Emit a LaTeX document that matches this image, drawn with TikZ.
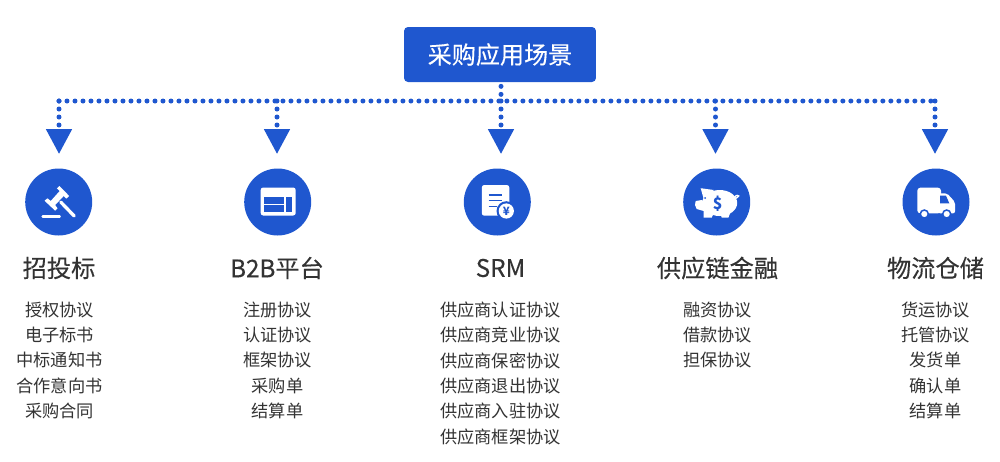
\documentclass[tikz,border=0pt]{standalone}
\usepackage{fontspec}
\setmainfont{Noto Sans CJK SC}
\newfontfamily\headfont[FakeBold=0.25]{Noto Sans CJK SC}
\usetikzlibrary{arrows.meta}
\definecolor{mainblue}{HTML}{1F57CF}
\definecolor{textgray}{HTML}{333333}

\begin{document}
\begin{tikzpicture}[
  x=0.02cm, y=-0.02cm,
  rootbox/.style={fill=mainblue, rounded corners=0.08cm, minimum width=3.84cm, minimum height=1.1cm, inner sep=0pt, text=white, font=\headfont\fontsize{13.7}{16}\selectfont},
  icon/.style={circle, fill=mainblue, minimum size=1.34cm, inner sep=0pt},
  head/.style={text=textgray, inner sep=0pt, font=\headfont\fontsize{13.8}{16}\selectfont},
  items/.style={anchor=north, align=center, text=textgray, inner sep=0pt, font=\fontsize{9.8}{14.45}\selectfont},
  bus/.style={mainblue, line width=0.1cm, line cap=round, dash pattern=on 0pt off 0.16cm},
  drop/.style={bus, shorten >=0.28cm, -{Triangle[length=0.5cm, width=0.5cm, line cap=butt]}},
  glyph/.style={fill=white, draw=none},
  cut/.style={fill=mainblue, draw=none}
]
\useasboundingbox (0,0) rectangle (1000,461);

\node[rootbox] (root) at (500,54.5) {采购应用场景};

% one column per scene
\node[icon] (gavel) at (58.7,202) {};
\node[icon] (window) at (277.7,202) {};
\node[icon] (paper) at (497.3,202) {};
\node[icon] (piggy) at (716.7,202) {};
\node[icon] (truck) at (936,202) {};

\node[head] (tender) at (59,268) {招投标};
\node[head] (btob) at (277,268) {B2B平台};
\node[head] (srm) at (500.5,268) {SRM};
\node[head] (finance) at (717.5,268) {供应链金融};
\node[head] (logistics) at (935.5,268) {物流仓储};

\node[items] (tenderlist) at (59.5,301.3) {授权协议\\电子标书\\中标通知书\\合作意向书\\采购合同};
\node[items] (btoblist) at (277.5,301.3) {注册协议\\认证协议\\框架协议\\采购单\\结算单};
\node[items] (srmlist) at (500.5,301.3) {供应商认证协议\\供应商竞业协议\\供应商保密协议\\供应商退出协议\\供应商入驻协议\\供应商框架协议};
\node[items] (financelist) at (717.5,301.3) {融资协议\\借款协议\\担保协议};
\node[items] (logisticslist) at (935.5,301.3) {货运协议\\托管协议\\发货单\\确认单\\结算单};

% dotted connectors
\coordinate (busleft) at (59,101);
\coordinate (busright) at (935,101);
\coordinate (busmid) at (501,101);
\draw[bus] (busleft) -- (busright);
\draw[bus] (root.south) ++(1,4) -- (busmid);
\foreach \t/\x in {gavel/59,window/277,paper/501,piggy/715.5,truck/935}
  \draw[drop] (\x,101) -- (\x,168);

% gavel
\begin{scope}[shift={(gavel.center)}]
  \fill[glyph] (-1.8,-13.7) -- (0.8,-16) -- (10.5,-6) -- (7.5,-3.3) -- (5,-6) -- (-3.5,3) -- (-1.2,6.3) -- (-3.5,8.7) -- (-14.2,-1.3) -- (-11.2,-3.7) -- (-8,-1) -- (1,-11) -- cycle;
  \draw[white, line width=0.066cm, line cap=round] (2,0) -- (15.5,14);
  \draw[white, line width=0.05cm, line cap=round] (-16,14.7) -- (1,14.7);
\end{scope}

% window
\begin{scope}[shift={(window.center)}]
  \fill[glyph, rounded corners=0.05cm] (-17,-14.5) rectangle (18,13.5);
  \fill[cut] (-13.5,-5.5) rectangle (5.8,1.8);
  \fill[cut] (-13.5,3) rectangle (5.8,10.2);
  \fill[cut] (8.5,-5.5) rectangle (14.5,10.2);
\end{scope}

% document with coin
\begin{scope}[shift={(paper.center)}]
  \fill[glyph, rounded corners=0.05cm] (-15.5,-17) rectangle (12,13.7);
  \draw[mainblue, line width=0.025cm] (-8.7,-7) -- (4.7,-7) (-8.7,-1.3) -- (4.7,-1.3) (-8.7,4.7) -- (-0.5,4.7);
  \fill[cut] (9,9) circle [radius=9.8];
  \fill[glyph] (9,9) circle [radius=7.6];
  \node[mainblue, inner sep=0pt, font=\fontsize{6.5}{7}\selectfont\bfseries] (yen) at (9,9) {¥};
\end{scope}

% piggy bank
\begin{scope}[shift={(piggy.center)}]
  \fill[glyph] (3,1) ellipse [x radius=17.5, y radius=13];
  \fill[glyph] (-15,-2) -- (-21,-1) -- (-21.7,3) -- (-20,7) -- (-13,9) -- (-5,5) -- cycle;
  \fill[glyph] (-16,-13.8) -- (-3,-12) -- (-8,-2) -- (-13,-3) -- cycle;
  \fill[glyph] (-13.3,6) -- (-13,15.7) -- (-5,15.7) -- (-3,11) -- cycle;
  \fill[glyph] (4,12) -- (5,15.7) -- (11.7,15.7) -- (15,7) -- cycle;
  \fill[cut] (-11.5,-4) circle [radius=1];
  \node[mainblue, inner sep=0pt, font=\fontsize{9}{10}\selectfont\bfseries] (dollar) at (1,1.5) {\$};
  \draw[white, line width=0.025cm] (18,-3) .. controls (17,-5) and (20,-8) .. (22,-6) .. controls (21,-4) and (19,-4) .. (18,-3);
\end{scope}

% truck
\begin{scope}[shift={(truck.center)}]
  \fill[glyph, rounded corners=0.06cm] (-18.7,-14.3) rectangle (5,11.3);
  \fill[glyph, rounded corners=0.04cm] (2,-8.7) -- (11,-8.7) -- (19,0) -- (19,11.3) -- (2,11.3) -- cycle;
  \fill[cut] (4,-6.3) -- (10,-6.3) -- (13.3,1.3) -- (4,1.3) -- cycle;
  \draw[fill=white, draw=mainblue, line width=0.03cm] (-11.7,12) circle [radius=4];
  \draw[fill=white, draw=mainblue, line width=0.03cm] (10.7,12) circle [radius=4];
\end{scope}

\end{tikzpicture}
\end{document}
